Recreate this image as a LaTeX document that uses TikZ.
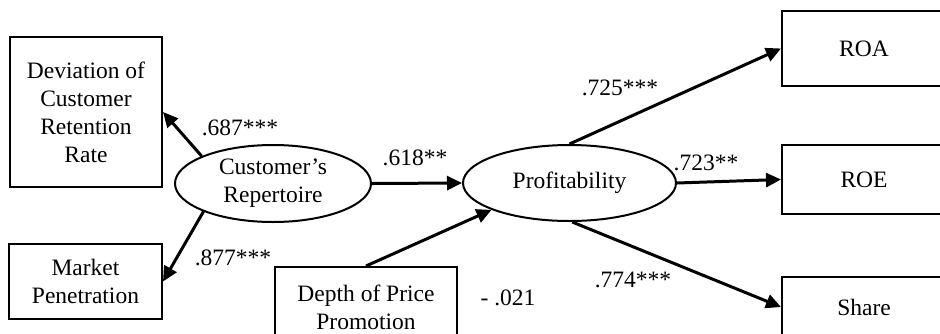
\documentclass[tikz,border=0pt]{standalone}
\usepackage{fontspec}
\setmainfont{Liberation Serif}
\usetikzlibrary{shapes.geometric,arrows.meta}
\begin{document}
\begin{tikzpicture}[x=1pt,y=-1pt,
  every node/.style={font=\fontsize{23.5}{28}\selectfont},
  obsbox/.style={draw,line width=2pt,rectangle,inner sep=0pt,align=center},
  latent/.style={draw,line width=2pt,ellipse,inner sep=0pt,align=center},
  conn/.style={line width=3pt,-{Triangle[length=15pt,width=14pt]}},
  coef/.style={inner sep=0pt}]
\useasboundingbox (0,0) rectangle (940,333);
\node[obsbox,minimum width=152pt,minimum height=150pt] (dev) at (86,112) {Deviation of\\Customer\\Retention\\Rate};
\node[obsbox,minimum width=153pt,minimum height=75pt] (mp) at (85.5,281.5) {Market\\Penetration};
\node[obsbox,minimum width=182pt,minimum height=80pt] (dpp) at (366,307) {Depth of Price\\Promotion};
\node[latent,minimum width=196pt,minimum height=77pt] (cr) at (273,183.5) {Customer's\\Repertoire};
\node[latent,minimum width=213pt,minimum height=76pt] (prof) at (569.5,183) {Profitability};
\node[obsbox,minimum width=164pt,minimum height=75pt] (roa) at (864,48.5) {ROA};
\node[obsbox,minimum width=164pt,minimum height=69pt] (roe) at (864,179.5) {ROE};
\node[obsbox,minimum width=164pt,minimum height=60pt] (share) at (864,307) {Share};

\draw[conn] (cr.159) -- (dev.east);
\draw[conn] (cr.202) -- (mp.east);
\draw[conn] (cr.east) -- (prof.west);
\draw[conn] (dpp.north) -- (prof.199);
\draw[conn] (prof.north) -- (roa.west);
\draw[conn] (prof.east) -- (roe.west);
\draw[conn] (prof.-86) -- (share.west);

\node[coef] (c1) at (240,128) {.687***};
\node[coef] (c2) at (233,258) {.877***};
\node[coef] (c3) at (415,158) {.618**};
\node[coef] (c4) at (620,88) {.725***};
\node[coef] (c5) at (706,163) {.723**};
\node[coef] (c6) at (633,280) {.774***};
\node[coef] (c7) at (508,298) {- .021};
\end{tikzpicture}
\end{document}
